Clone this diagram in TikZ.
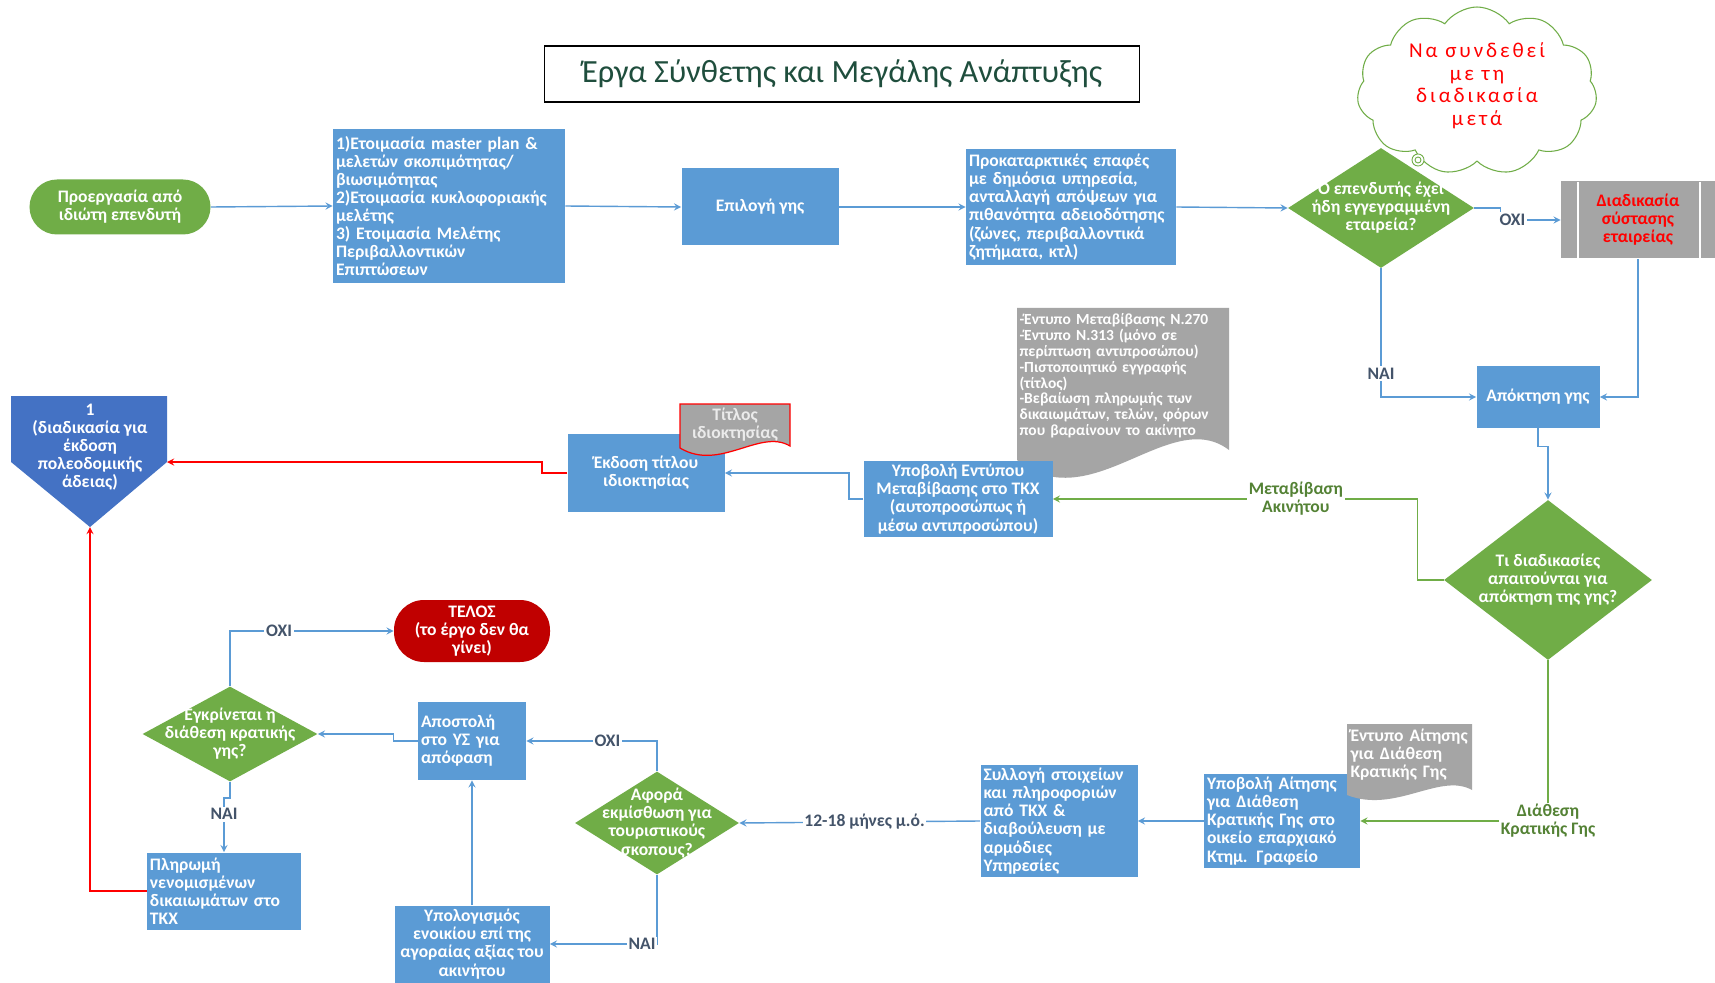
\documentclass[tikz,border=0pt]{standalone}
\usepackage{fontspec}
\setmainfont{Carlito}
\usetikzlibrary{shapes.geometric,shapes.symbols}
\definecolor{boxblue}{HTML}{5B9BD5}
\definecolor{pentblue}{HTML}{4472C4}
\definecolor{ogreen}{HTML}{70AD47}
\definecolor{lblgreen}{HTML}{548235}
\definecolor{lblgrey}{HTML}{44546A}
\definecolor{docgrey}{HTML}{A5A5A5}
\definecolor{endred}{HTML}{C00000}
\definecolor{titlegreen}{HTML}{1F4E3D}

\begin{document}
\begin{tikzpicture}[x=0.2mm,y=-0.2mm,>=stealth,
  box/.style={fill=boxblue,text=white,font=\bfseries\fontsize{10}{10.3}\selectfont,inner sep=0.6mm},
  lbox/.style={box,align=left},
  cbox/.style={box,align=center},
  dia/.style={diamond,fill=ogreen,inner sep=0pt},
  dtext/.style={text=white,font=\bfseries\fontsize{10}{10.3}\selectfont,align=center},
  conn/.style={->,draw=boxblue,line width=0.8pt},
  gconn/.style={->,draw=ogreen,line width=0.8pt},
  rconn/.style={->,draw=red,line width=0.8pt},
  yesno/.style={fill=white,text=lblgrey,font=\bfseries\fontsize{10}{10}\selectfont,inner sep=1pt},
  glabel/.style={fill=white,text=lblgreen,font=\bfseries\fontsize{10}{10.3}\selectfont,align=center,inner sep=1pt},
  doctext/.style={text=white,font=\bfseries\fontsize{10}{10.3}\selectfont}]
  \path[fill=white,use as bounding box] (0,0) rectangle (1715,983);

  % title
  \node[draw=black,line width=0.9pt,minimum width=119mm,minimum height=11.2mm,text=titlegreen,font=\fontsize{18.4}{20}\selectfont] (title) at (842,74) {Έργα Σύνθετης και Μεγάλης Ανάπτυξης};

  % top row
  \node[cbox,fill=ogreen,rounded corners=5.5mm,minimum width=36.2mm,minimum height=11mm] (start) at (120,207) {Προεργασία από\\ιδιώτη επενδυτή};
  \node[lbox,text width=45.2mm,minimum height=30.6mm] (prep) at (449,206) {1)Ετοιμασία master plan \&\\μελετών σκοπιμότητας/\\βιωσιμότητας\\2)Ετοιμασία κυκλοφοριακής\\μελέτης\\3) Ετοιμασία Μελέτης\\Περιβαλλοντικών\\Επιπτώσεων};
  \node[cbox,minimum width=31.4mm,minimum height=15.4mm] (land) at (760,207) {Επιλογή γης};
  \node[lbox,text width=40.8mm,minimum height=23mm] (contact) at (1071,207) {Προκαταρκτικές επαφές\\με δημόσια υπηρεσία,\\ανταλλαγή απόψεων για\\πιθανότητα αδειοδότησης\\(ζώνες, περιβαλλοντικά\\ζητήματα, κτλ)};

  \node[cloud,cloud puffs=11,cloud puff arc=110,aspect=1.45,draw=ogreen,fill=white,line width=0.6pt,minimum width=48mm,minimum height=33.6mm] (note) at (1477,91) {};
  \node[text=red,align=center,font=\fontsize{12}{12.8}\selectfont\addfontfeatures{LetterSpace=14}] (notetext) at (1477,86) {Να συνδεθεί\\με τη\\διαδικασία\\μετά};

  \node[dia,minimum width=37.2mm,minimum height=24mm,label={[dtext]center:{Ο επενδυτής έχει\\ήδη εγγεγραμμένη\\εταιρεία?}}] (company) at (1381,208) {};
  \draw[ogreen,fill=white,line width=0.5pt] (1418,160) circle (6) (1418,160) circle (3);

  \node[fill=docgrey,minimum width=30.8mm,minimum height=15.4mm,text=red,align=center,font=\bfseries\fontsize{10}{10.3}\selectfont] (setup) at (1638,220) {Διαδικασία\\σύστασης\\εταιρείας};
  \draw[white,line width=1.2pt] (1578,182) -- (1578,259) (1700,182) -- (1700,259);

  \node[cbox,minimum width=24.6mm,minimum height=12.4mm] (acquire) at (1538,397) {Απόκτηση γης};

  % transfer branch
  \fill[docgrey] (1017,308) -- (1229,308) -- (1229,450) .. controls (1170,405) and (1090,520) .. (1017,460) -- cycle;
  \node[text width=41.4mm,align=left,text=white,inner sep=0.5mm,font=\bfseries\fontsize{8.8}{9}\selectfont] (docs) at (1123,376) {-Έντυπο Μεταβίβασης Ν.270\\-Έντυπο Ν.313 (μόνο σε\\περίπτωση αντιπροσώπου)\\-Πιστοποιητικό εγγραφής\\(τίτλος)\\-Βεβαίωση πληρωμής των\\δικαιωμάτων, τελών, φόρων\\που βαραίνουν το ακίνητο};

  \node[dia,minimum width=41.6mm,minimum height=32mm,label={[dtext]center:{Τι διαδικασίες\\απαιτούνται για\\απόκτηση της γης?}}] (which) at (1548,580) {};
  \node[cbox,minimum width=37.8mm,minimum height=15mm] (submit) at (958,499) {Υποβολή Εντύπου\\Μεταβίβασης στο ΤΚΧ\\(αυτοπροσώπως ή\\μέσω αντιπροσώπου)};
  \node[cbox,minimum width=31.4mm,minimum height=15.6mm] (deed) at (646,473) {Έκδοση τίτλου\\ιδιοκτησίας};

  \filldraw[fill=docgrey,draw=red,line width=0.7pt] (680,404) -- (790,404) -- (790,446) .. controls (760,428) and (720,472) .. (680,448) -- cycle;
  \node[doctext,align=center,text=white!92!black] (deeddoc) at (735,425) {Τίτλος\\ιδιοκτησίας};

  \fill[pentblue] (11,396) -- (167,396) -- (167,462) -- (90,527) -- (11,462) -- cycle;
  \coordinate (pentR) at (167,462);
  \coordinate (pentB) at (90,527);
  \node[dtext] (permit) at (90,447) {1\\(διαδικασία για\\έκδοση\\πολεοδομικής\\άδειας)};

  % state land branch
  \node[cbox,fill=endred,rounded corners=6mm,minimum width=31.2mm,minimum height=12.4mm] (theend) at (472,631) {ΤΕΛΟΣ\\(το έργο δεν θα\\γίνει)};
  \node[dia,minimum width=35mm,minimum height=19mm,label={[dtext]center:{Εγκρίνεται η\\διάθεση κρατικής\\γης?}}] (approve) at (230,734) {};
  \node[lbox,text width=20.4mm,minimum height=15.6mm] (send) at (472,741) {Αποστολή\\στο ΥΣ για\\απόφαση};
  \node[dia,minimum width=32.8mm,minimum height=20.6mm,label={[dtext]center:{Αφορά\\εκμίσθωση για\\τουριστικούς\\σκοπους?}}] (tourism) at (657,823) {};
  \node[cbox,minimum width=31mm,minimum height=15.4mm] (rent) at (472,944) {Υπολογισμός\\ενοικίου επί της\\αγοραίας αξίας του\\ακινήτου};
  \node[lbox,text width=30.2mm,minimum height=21.4mm] (collect) at (1059,821) {Συλλογή στοιχείων\\και πληροφοριών\\από ΤΚΧ \&\\διαβούλευση με\\αρμόδιες\\Υπηρεσίες};
  \node[lbox,text width=30mm,minimum height=18.6mm] (apply) at (1282,821) {Υποβολή Αίτησης\\για Διάθεση\\Κρατικής Γης στο\\οικείο επαρχιακό\\Κτημ. Γραφείο};
  \fill[docgrey] (1347,724) -- (1472,724) -- (1472,790) .. controls (1440,772) and (1395,814) .. (1347,795) -- cycle;
  \node[doctext,text width=25mm,inner sep=0.5mm,align=left] (applydoc) at (1413,755) {Έντυπο Αίτησης\\για Διάθεση\\Κρατικής Γης};
  \node[lbox,text width=29.6mm,minimum height=15.4mm] (pay) at (224,891) {Πληρωμή\\νενομισμένων\\δικαιωμάτων στο\\ΤΚΧ};

  % connectors
  \draw[conn] (start.east) -- (prep.west);
  \draw[conn] (prep.east) -- (land.west);
  \draw[conn] (land.east) -- (contact.west);
  \draw[conn] (contact.east) -- (company.west);
  \draw[conn] (company.east) -- ++(26,0) |- node[yesno,pos=0.6]{ΟΧΙ} (setup.west);
  \draw[conn] (company.south) |- node[yesno,pos=0.41]{ΝΑΙ} (acquire.west);
  \draw[conn] (setup.south) |- (acquire.east);
  \draw[conn] (acquire.south) -- ++(0,18) -| (which.north);
  \draw[gconn] (which.west) -- ++(-26,0) |- node[glabel,pos=0.667]{Μεταβίβαση\\Ακινήτου} (submit.east);
  \draw[conn] (submit.west) -- ++(-14,0) |- (deed.east);
  \draw[rconn] (deed.west) -- ++(-25,0) |- (pentR);
  \draw[rconn] (pay.west) -| (pentB);
  \draw[gconn] (which.south) |- node[glabel,pos=0.5]{Διάθεση\\Κρατικής Γης} (apply.east);
  \draw[conn] (apply.west) -- (collect.east);
  \draw[conn] (collect.west) -- node[yesno,pos=0.48]{12-18 μήνες μ.ό.} (tourism.east);
  \draw[conn] (tourism.north) |- node[yesno,pos=0.69]{ΟΧΙ} (send.east);
  \draw[conn] (tourism.south) |- node[yesno,pos=0.57]{ΝΑΙ} (rent.east);
  \draw[conn] (rent.north) -- (send.south);
  \draw[conn] (send.west) -- ++(-24,0) |- (approve.east);
  \draw[conn] (approve.north) |- node[yesno,pos=0.65]{ΟΧΙ} (theend.west);
  \draw[conn] (approve.south) -- ++(0,16) -| node[yesno,pos=0.65]{ΝΑΙ} (pay.north);
\end{tikzpicture}
\end{document}
